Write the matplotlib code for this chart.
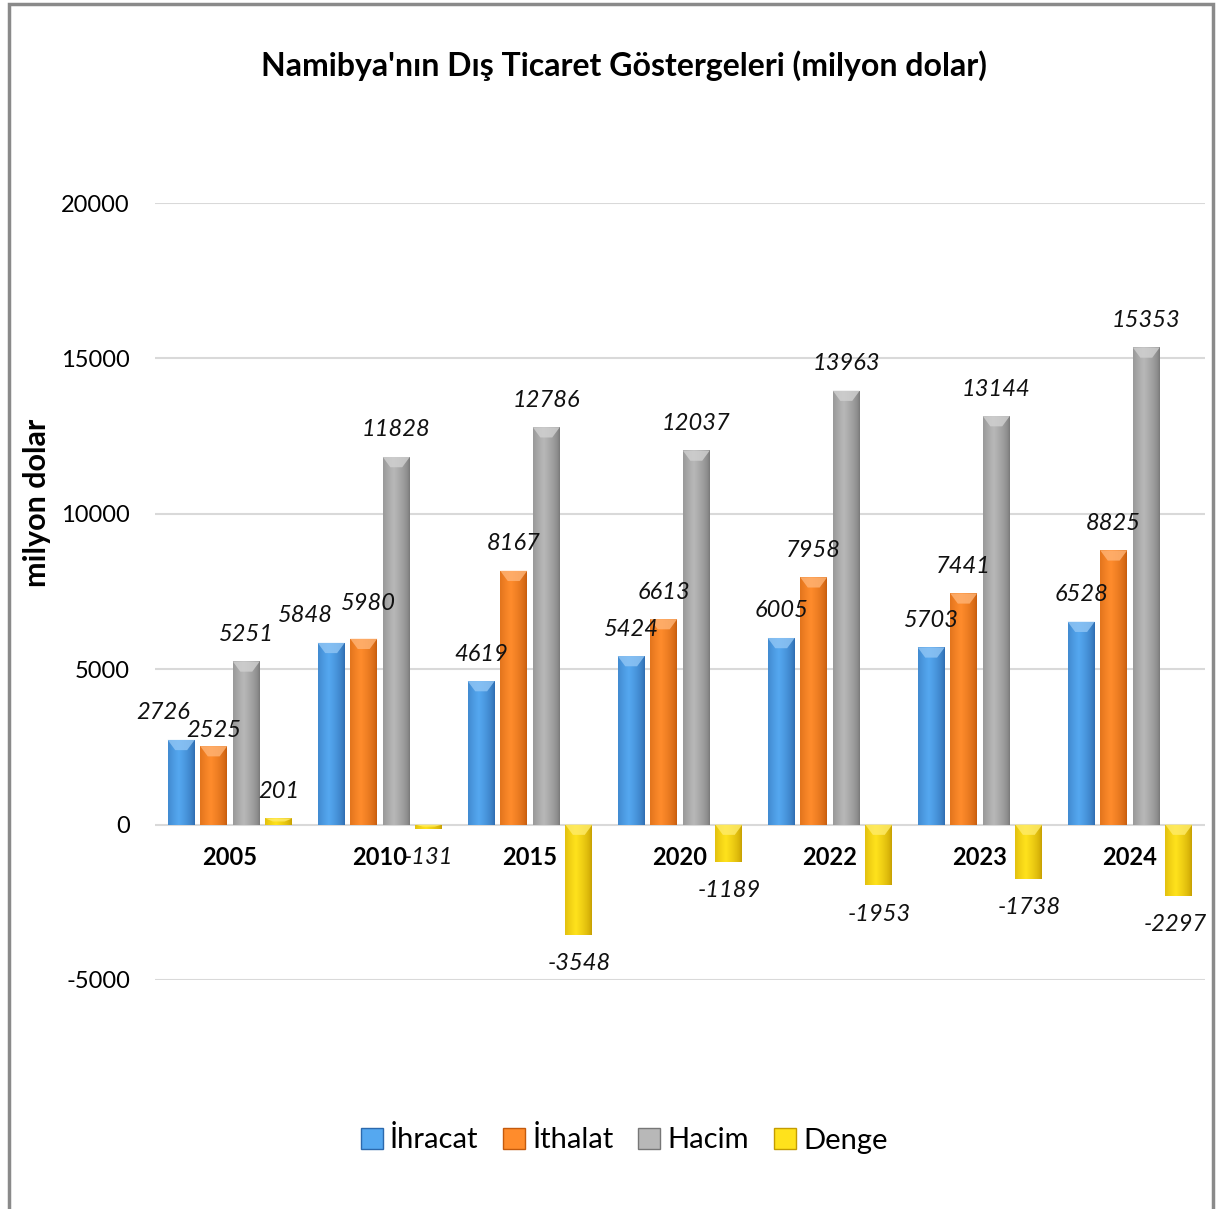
import numpy as np
import matplotlib.pyplot as plt
from matplotlib.colors import to_rgb
from matplotlib.patches import Patch, Polygon, Rectangle

plt.rcParams['font.family'] = ['Lato', 'DejaVu Sans']
plt.rcParams['axes.unicode_minus'] = False

### Data
years   = ['2005', '2010', '2015', '2020', '2022', '2023', '2024']
ihracat = [2726, 5848, 4619, 5424, 6005, 5703, 6528]
ithalat = [2525, 5980, 8167, 6613, 7958, 7441, 8825]
hacim   = [5251, 11828, 12786, 12037, 13963, 13144, 15353]
denge   = [201, -131, -3548, -1189, -1953, -1738, -2297]
names   = ['İhracat', 'İthalat', 'Hacim', 'Denge']

# (dark edge, light centre) per series
shades = [('#2c69ad', '#55a8f0'), ('#c45a0c', '#ff8c2c'),
          ('#777777', '#b8b8b8'), ('#c49c00', '#ffe21c')]

# label nudges in pixels for crowded labels (group, series) -> (dx, dy)
nudges = {(0, 0): (-18, 0), (0, 1): (0, 11), (1, 0): (-26, 0), (1, 1): (5, -8),
          (6, 3): (-4, 0)}

PT = 0.72  # px -> pt at 100 dpi


def shade_bar(ax, bar, dark, light):
    x0, w = bar.get_x(), bar.get_width()
    y0, h = bar.get_y(), bar.get_height()
    lo, hi = min(y0, y0 + h), max(y0, y0 + h)
    t = np.linspace(0, 1, 64)
    k = np.clip(1 - np.abs(t - 0.4) / 0.6, 0, 1) ** 0.6
    d, l = np.array(to_rgb(dark)), np.array(to_rgb(light))
    img = (d + (l - d) * k[:, None])[None, :, :]
    im = ax.imshow(img, extent=[x0, x0 + w, lo, hi], aspect='auto',
                   zorder=2, interpolation='bicubic')
    im.set_clip_path(bar)
    # top bevel highlight
    bev = min(330, (hi - lo) / 2)
    hl = l + (1 - l) * 0.35
    ax.add_patch(Polygon([(x0, hi), (x0 + w, hi), (x0 + w * 0.72, hi - bev),
                          (x0 + w * 0.28, hi - bev)], closed=True,
                         facecolor=hl, edgecolor='none', alpha=0.8, zorder=3))


def main():
    fig = plt.figure(figsize=(12.19, 12.09), dpi=100)
    ax = fig.add_axes([155 / 1219, 1 - 980 / 1209, 1050 / 1219, 777 / 1209])

    x = np.arange(len(years))
    step, width = 0.217, 0.18
    series = [ihracat, ithalat, hacim, denge]

    for s, vals in enumerate(series):
        xs = x + (s - 1.5) * step
        bars = ax.bar(xs, vals, width, color=shades[s][0], zorder=1)
        for g, bar in enumerate(bars):
            shade_bar(ax, bar, *shades[s])
            v = vals[g]
            dx, dy = nudges.get((g, s), (0, 0))
            off = 27 if v >= 0 else -29
            ax.annotate(str(v), (xs[g], v), xytext=(dx * PT, (off - dy) * PT),
                        textcoords='offset points', ha='center', va='center',
                        fontsize=17, style='italic', color='#111111', zorder=5)

    for i, yr in enumerate(years):
        ax.annotate(yr, (x[i], 0), xytext=(0, -33 * PT), textcoords='offset points',
                    ha='center', va='center', fontsize=17, fontweight='bold', zorder=5)

    ax.set_xlim(-0.5, len(years) - 0.5)
    ax.set_ylim(-5000, 20000)
    ax.set_yticks(range(-5000, 20001, 5000))
    ax.set_xticks([])
    ax.tick_params(axis='y', length=0, pad=18, labelsize=17)
    ax.yaxis.grid(color='#d9d9d9', lw=1.5)
    ax.set_axisbelow(True)
    for sp in ax.spines.values():
        sp.set_visible(False)

    fig.text(0.512, 1 - 66 / 1209, "Namibya'nın Dış Ticaret Göstergeleri (milyon dolar)",
             ha='center', va='center', fontsize=23, fontweight='bold')
    fig.text(37 / 1219, 1 - 503 / 1209, 'milyon dolar', rotation=90,
             ha='center', va='center', fontsize=22, fontweight='bold')

    handles = [Patch(facecolor=l, edgecolor=d, label=n) for (d, l), n in zip(shades, names)]
    fig.legend(handles=handles, loc='center', bbox_to_anchor=(0.512, 1 - 1140 / 1209),
               ncol=4, frameon=False, fontsize=21, handlelength=0.75, handleheight=0.75,
               columnspacing=0.85, handletextpad=0.25)

    fig.patches.append(Rectangle((9 / 1219, -0.01), 1204 / 1219, 1 - 4 / 1209 + 0.01,
                                 fill=False, edgecolor='#8a8a8a', lw=2.5,
                                 transform=fig.transFigure))

    fig.savefig('out.png', dpi=100)


if __name__ == '__main__':
    main()
